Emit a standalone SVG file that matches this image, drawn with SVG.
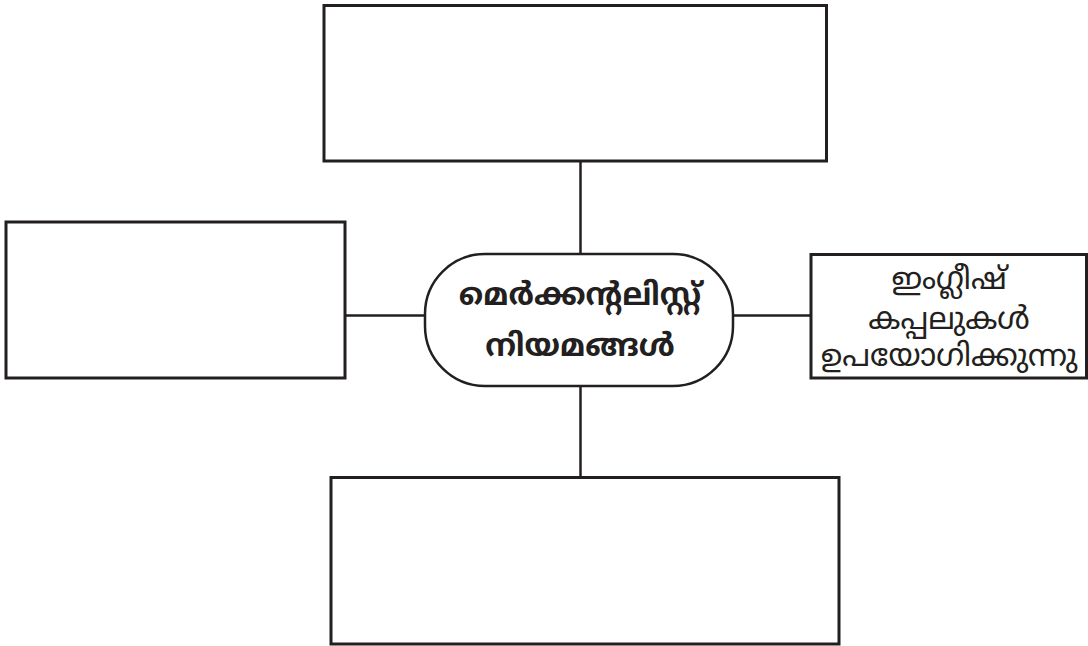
<svg xmlns="http://www.w3.org/2000/svg" width="1088" height="646" viewBox="0 0 1088 646">
<style>
.box{fill:#fff;stroke:#231f20;stroke-width:3}
.conn{stroke:#231f20;stroke-width:2.5;fill:none}
.t{font-family:"Noto Sans Malayalam","Noto Serif Malayalam","Manjari","Noto Sans",sans-serif;fill:#231f20;text-anchor:middle}
.main{font-size:31px;font-weight:bold}
.sub{font-size:31px}
</style>
<rect width="1088" height="646" fill="#fff"/>
<g id="connectors">
<line class="conn" x1="580.5" y1="161" x2="580.5" y2="254"/>
<line class="conn" x1="580.5" y1="386" x2="580.5" y2="477"/>
<line class="conn" x1="345" y1="315.5" x2="425" y2="315.5"/>
<line class="conn" x1="733" y1="315.5" x2="811" y2="315.5"/>
</g>
<g id="top"><rect class="box" x="324" y="5.5" width="502.5" height="155.5"/></g>
<g id="left"><rect class="box" x="6" y="222" width="339" height="156"/></g>
<g id="bottom"><rect class="box" x="331" y="477.5" width="508" height="166.5"/></g>
<g id="center">
<rect class="box" x="425" y="254" width="308" height="132" rx="60" ry="60" style="stroke-width:2.5"/>
<text class="t main" x="580" y="305">മെർക്കന്റലിസ്റ്റ്</text>
<text class="t main" x="580" y="356">നിയമങ്ങൾ</text>
</g>
<g id="right">
<rect class="box" x="811" y="254.5" width="275.5" height="123.5"/>
<text class="t sub" x="949" y="289">ഇംഗ്ലീഷ്</text>
<text class="t sub" x="949" y="329">കപ്പലുകൾ</text>
<text class="t sub" x="949" y="366">ഉപയോഗിക്കുന്നു</text>
</g>
</svg>
